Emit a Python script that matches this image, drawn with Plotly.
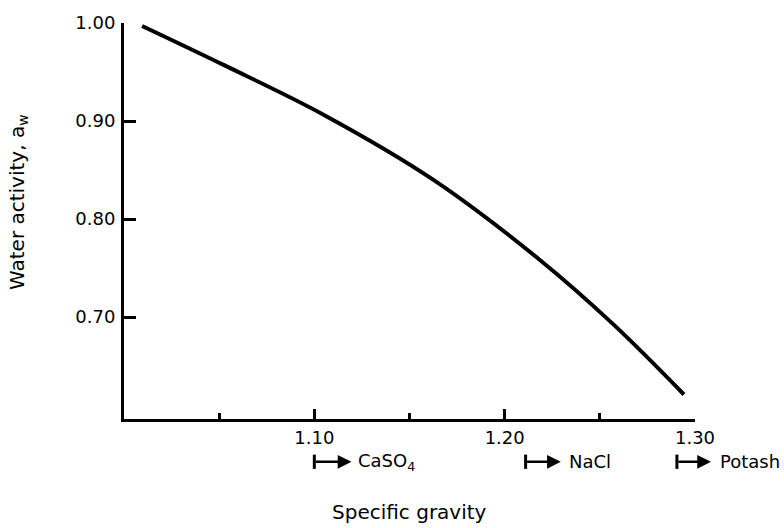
import plotly.graph_objects as go

# Water activity versus brine specific gravity
specific_gravity = [1.0095, 1.0526, 1.1053, 1.1626, 1.2174, 1.2574, 1.2942]
water_activity = [0.997, 0.957, 0.906, 0.840, 0.760, 0.692, 0.621]

# Onset of mineral precipitation
minerals = ["CaSO<sub>4</sub>", "NaCl", "Potash"]
onset_gravity = [1.100, 1.211, 1.2905]
arrow_tip = [1.1195, 1.2295, 1.3084]
label_start = [1.1221, 1.2326, 1.312]

x_ticks = [1.10, 1.20, 1.30]
x_minor = [1.05, 1.15, 1.25]
y_ticks = [0.70, 0.80, 0.90, 1.00]

X_RANGE = [1.0, 1.30]
Y_RANGE = [0.596, 1.0]
W, H = 784, 528
M = dict(l=124, r=89, t=21, b=109)
PLOT_W = W - M["l"] - M["r"]

FONT = "DejaVu Sans"


def xpaper(v):
    """Specific gravity -> paper fraction (lets labels sit past the axis end)."""
    return (v - X_RANGE[0]) / (X_RANGE[1] - X_RANGE[0])


fig = go.Figure()
fig.add_trace(go.Scatter(
    x=specific_gravity, y=water_activity, mode="lines",
    line=dict(color="black", width=4, shape="spline", smoothing=1.0),
    hoverinfo="skip", showlegend=False,
))

row_y = -0.108
for name, x0, tip, lx in zip(minerals, onset_gravity, arrow_tip, label_start):
    fig.add_shape(type="line", xref="paper", yref="paper",
                  x0=xpaper(x0), x1=xpaper(x0),
                  y0=row_y + 0.018, y1=row_y - 0.018,
                  line=dict(color="black", width=3))
    fig.add_annotation(xref="paper", yref="paper", x=xpaper(tip), y=row_y,
                       axref="pixel", ayref="pixel",
                       ax=-(xpaper(tip) - xpaper(x0)) * PLOT_W, ay=0,
                       text="", showarrow=True, arrowhead=2, arrowsize=1.1,
                       arrowwidth=2.5, arrowcolor="black")
    fig.add_annotation(xref="paper", yref="paper", x=xpaper(lx), y=row_y,
                       text=name, showarrow=False, xanchor="left",
                       yanchor="middle", font=dict(family=FONT, size=18, color="black"))

fig.add_annotation(xref="paper", yref="paper", x=-0.1856, y=0.548,
                   text="Water activity, a<sub>w</sub>", textangle=-90,
                   showarrow=False, xanchor="center", yanchor="middle",
                   font=dict(family=FONT, size=20, color="black"))
fig.add_annotation(xref="paper", yref="paper", x=0.5, y=-0.236,
                   text="Specific gravity", showarrow=False,
                   xanchor="center", yanchor="middle",
                   font=dict(family=FONT, size=20, color="black"))

fig.update_xaxes(
    range=X_RANGE, showgrid=False, zeroline=False,
    showline=True, linecolor="black", linewidth=3,
    tickmode="array", tickvals=x_ticks, ticktext=[f"{v:.2f}" for v in x_ticks],
    ticks="inside", ticklen=10, tickwidth=2.5, tickcolor="black",
    ticklabelstandoff=0,
    minor=dict(tickvals=x_minor, ticks="inside", ticklen=6, tickwidth=2.5,
               tickcolor="black", showgrid=False),
    tickfont=dict(family=FONT, size=18, color="black"),
)
fig.update_yaxes(
    range=Y_RANGE, showgrid=False, zeroline=False,
    showline=True, linecolor="black", linewidth=3,
    tickmode="array", tickvals=y_ticks, ticktext=[f"{v:.2f}" for v in y_ticks],
    ticks="inside", ticklen=12, tickwidth=2.5, tickcolor="black",
    ticklabelstandoff=2,
    tickfont=dict(family=FONT, size=18, color="black"),
)

fig.update_layout(
    width=W, height=H, margin=M,
    paper_bgcolor="white", plot_bgcolor="white",
)

fig.write_html("out.html")
